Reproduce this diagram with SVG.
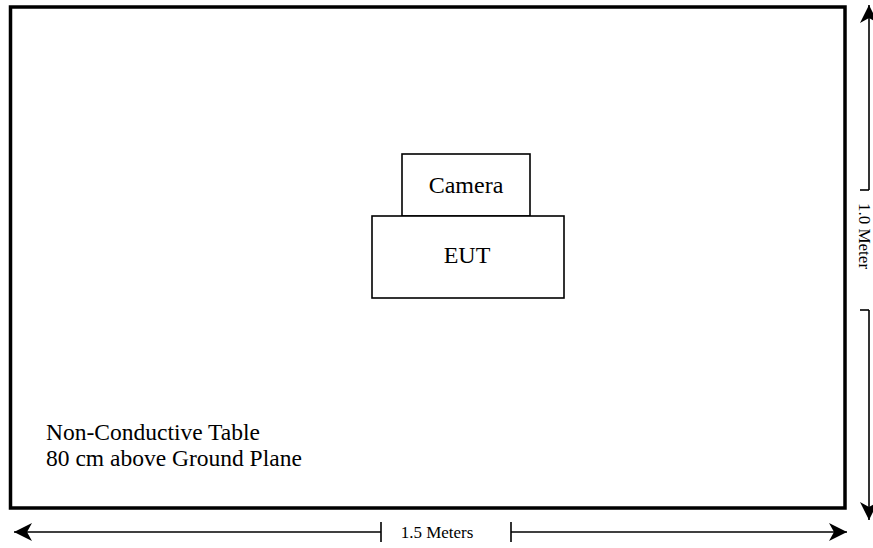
<svg xmlns="http://www.w3.org/2000/svg" width="873" height="548" viewBox="0 0 873 548">
<style>
.box{fill:#fff;stroke:#000;stroke-width:1.6}
.t{font-family:"Liberation Serif","Times New Roman",serif;fill:#000}
.ln{stroke:#000;stroke-width:1.6;fill:none}
</style>
<defs>
<marker id="ah" viewBox="0 0 20 20" refX="18" refY="10" markerWidth="20" markerHeight="20" markerUnits="userSpaceOnUse" orient="auto">
<path d="M0,1 L18,10 L0,19 L5,10 Z" fill="#000"/>
</marker>
</defs>
<rect width="873" height="548" fill="#fff"/>
<g id="table">
<rect x="10.5" y="7" width="834.5" height="501" fill="#fff" stroke="#000" stroke-width="3.5"/>
<text class="t" x="46" y="440" font-size="23.5">Non-Conductive Table</text>
<text class="t" x="46" y="466" font-size="23.5">80 cm above Ground Plane</text>
</g>
<g id="camera">
<rect class="box" x="402" y="154" width="128" height="62"/>
<text class="t" x="466" y="193" font-size="24" text-anchor="middle">Camera</text>
</g>
<g id="eut">
<rect class="box" x="372" y="216" width="192" height="82"/>
<text class="t" x="467" y="263" font-size="24" text-anchor="middle">EUT</text>
</g>
<g id="connectors">
<line class="ln" x1="381" y1="532" x2="14" y2="532" marker-end="url(#ah)"/>
<line class="ln" x1="381" y1="522" x2="381" y2="542"/>
<line class="ln" x1="511" y1="532" x2="847" y2="532" marker-end="url(#ah)"/>
<line class="ln" x1="511" y1="522" x2="511" y2="542"/>
<line class="ln" x1="869" y1="190" x2="869" y2="5" marker-end="url(#ah)"/>
<line class="ln" x1="860" y1="190" x2="869" y2="190"/>
<line class="ln" x1="869" y1="310" x2="869" y2="520" marker-end="url(#ah)"/>
<line class="ln" x1="860" y1="310" x2="869" y2="310"/>
</g>
<text class="t" x="437" y="538" font-size="17" text-anchor="middle">1.5 Meters</text>
<text class="t" font-size="17" text-anchor="middle" transform="translate(859,236) rotate(90)">1.0 Meter</text>
</svg>
